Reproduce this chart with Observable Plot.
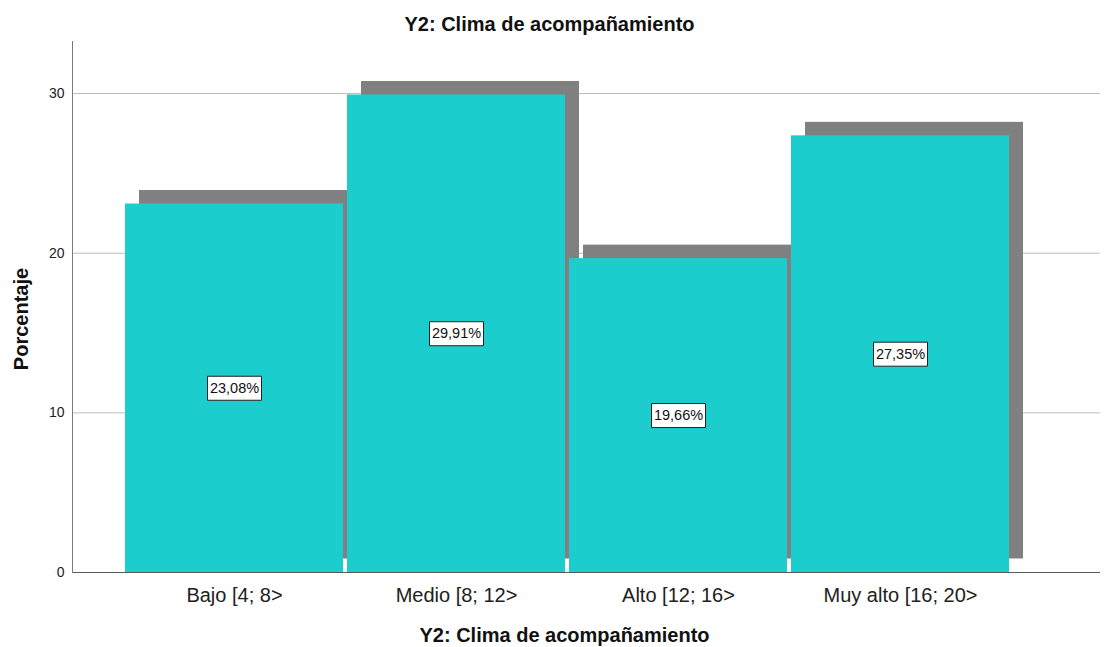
<!DOCTYPE html>
<html>
<head>
<meta charset="utf-8">
<script src="https://cdn.jsdelivr.net/npm/d3@7"></script>
<script src="https://cdn.jsdelivr.net/npm/@observablehq/plot@0.6"></script>
<style>
  html, body { margin: 0; padding: 0; background: #fff; }
  #chart svg { display: block; }
</style>
</head>
<body>
<div id="chart"></div>
<script>
const categories = ["Bajo [4; 8>", "Medio [8; 12>", "Alto [12; 16>", "Muy alto [16; 20>"];
const values = [23.08, 29.91, 19.66, 27.35];
const valueLabels = ["23,08%", "29,91%", "19,66%", "27,35%"];
const yTicks = [0, 10, 20, 30];
const gridTicks = [10, 20, 30];
const chartTitle = "Y2: Clima de acompañamiento";
const xTitle = "Y2: Clima de acompañamiento";
const yTitle = "Porcentaje";

const data = categories.map((c, i) => ({cat: c, value: values[i], label: valueLabels[i]}));

const boxSymbol = {
  draw(context) {
    context.moveTo(-27, -12);
    context.lineTo(27, -12);
    context.lineTo(27, 12);
    context.lineTo(-27, 12);
    context.closePath();
  }
};

const font = "'Liberation Sans', Arial, sans-serif";

const chart = Plot.plot({
  width: 1105,
  height: 647,
  marginTop: 41,
  marginLeft: 72,
  marginRight: 5,
  marginBottom: 75,
  style: {fontFamily: font, background: "#fff", color: "#212121"},
  x: {type: "band", domain: categories, range: [123, 1010], paddingInner: 0.02, paddingOuter: 0, axis: null},
  y: {domain: [0, 33.26], axis: null},
  marks: [
    Plot.ruleY(gridTicks, {stroke: "#bdbdbd", strokeWidth: 1}),
    Plot.barY(data, {x: "cat", y: "value", fill: "#808080", dx: 14, dy: -13.5}),
    Plot.barY(data, {x: "cat", y: "value", fill: "#1ccdcd"}),
    Plot.ruleY([0], {stroke: "#5a5a5a", strokeWidth: 1}),
    Plot.frame({anchor: "left", stroke: "#7a7a7a"}),
    Plot.axisY({ticks: yTicks, tickSize: 0, tickPadding: 8, fontSize: 14, label: null, fill: "#212121"}),
    Plot.axisX({tickSize: 0, tickPadding: 15, fontSize: 20, label: null, fill: "#212121"}),
    Plot.dot(data, {x: "cat", y: d => d.value / 2, symbol: boxSymbol, r: 10, fill: "#fff", stroke: "#222", strokeWidth: 1}),
    Plot.text(data, {x: "cat", y: d => d.value / 2, text: "label", fontSize: 14.5, fill: "#111"}),
    Plot.text([chartTitle], {frameAnchor: "top", lineAnchor: "middle", textAnchor: "middle", dx: -37, dy: -17, fontSize: 20, fontWeight: "bold", fill: "#111"}),
    Plot.text([xTitle], {frameAnchor: "bottom", lineAnchor: "middle", textAnchor: "middle", dx: -22, dy: 63.3, fontSize: 20, fontWeight: "bold", fill: "#111"}),
    Plot.text([yTitle], {frameAnchor: "left", lineAnchor: "middle", textAnchor: "middle", dx: -51, dy: 12, rotate: -90, fontSize: 20, fontWeight: "bold", fill: "#111"})
  ]
});

document.getElementById("chart").appendChild(chart);
</script>
</body>
</html>
